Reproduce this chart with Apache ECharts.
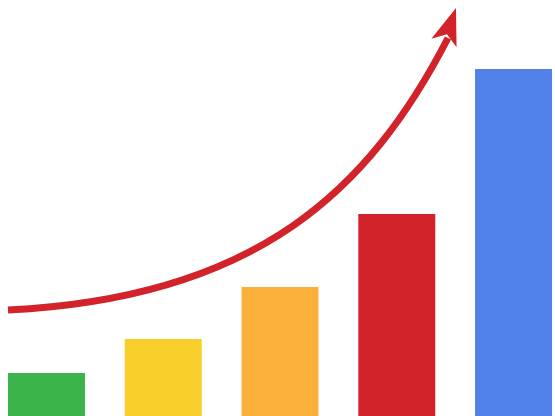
<!DOCTYPE html>
<html>
<head>
<meta charset="utf-8">
<script src="https://cdn.jsdelivr.net/npm/echarts@6/dist/echarts.min.js"></script>
<style>
html, body { margin:0; padding:0; background:#fff; }
#chart { width:555px; height:416px; }
</style>
</head>
<body>
<div id="chart"></div>
<script type="text/javascript">
// bar data
var categories = ['A', 'B', 'C', 'D', 'E'];
var values = [43, 77, 129, 202, 347];
var barColors = ['#3bb54a', '#f8cf2a', '#fbb03b', '#d2232a', '#5182ea'];

// growth arrow: start, two bezier handles, end (overlay grid units, 0..555 x 0..416)
var arrowX = [8, 258, 370, 448];
var arrowY = [106, 118, 227, 378];
// arrow head: tip and tilt
var headPos = [456, 408];
var headRotate = -19;

function arrowPath(params, api) {
    if (params.dataIndex !== 0) return;
    var p = arrowX.map(function (x, i) { return api.coord([x, arrowY[i]]); });
    var d = 'M' + p[0].join(' ') + ' C' + p[1].join(' ') + ' ' + p[2].join(' ') + ' ' + p[3].join(' ');
    return {
        type: 'path',
        shape: { pathData: d },
        style: { fill: 'none', stroke: '#d2232a', lineWidth: 7 }
    };
}

var chart = echarts.init(document.getElementById('chart'));
var option = {
    backgroundColor: '#fff',
    animation: false,
    grid: [
        { left: 0, right: 0, top: 0, bottom: 0 },
        { left: 0, right: 0, top: 0, bottom: 0 }
    ],
    xAxis: [
        { type: 'value', gridIndex: 0, min: -0.398, max: 4.355, show: false },
        { type: 'value', gridIndex: 1, min: 0, max: 555, show: false }
    ],
    yAxis: [
        { type: 'value', gridIndex: 0, min: 0, max: 416, show: false },
        { type: 'value', gridIndex: 1, min: 0, max: 416, show: false }
    ],
    series: [
        {
            type: 'bar',
            name: 'bars',
            xAxisIndex: 0,
            yAxisIndex: 0,
            barWidth: 77,
            data: values.map(function (v, i) {
                return { name: categories[i], value: [i, v], itemStyle: { color: barColors[i] } };
            })
        },
        {
            type: 'custom',
            xAxisIndex: 1,
            yAxisIndex: 1,
            renderItem: arrowPath,
            data: arrowX.map(function (x, i) { return [x, arrowY[i]]; })
        },
        {
            type: 'scatter',
            xAxisIndex: 1,
            yAxisIndex: 1,
            symbol: 'arrow',
            symbolSize: [20, 37],
            symbolRotate: headRotate,
            itemStyle: { color: '#d2232a', opacity: 1 },
            data: [headPos],
            z: 5
        }
    ]
};
chart.setOption(option);
</script>
</body>
</html>
